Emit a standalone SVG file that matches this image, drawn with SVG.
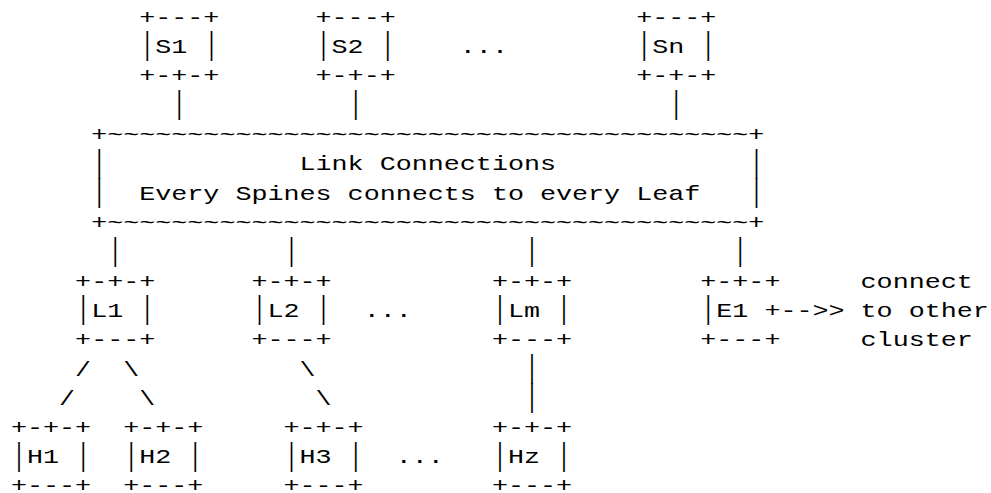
<svg xmlns="http://www.w3.org/2000/svg" width="991" height="493" viewBox="0 0 991 493">
<style>
text{font-family:"Liberation Mono","Courier New",monospace;font-size:21px;fill:#000}
text.b{font-size:31px;text-anchor:middle}
</style>
<rect width="991" height="493" fill="#fff"/>
<g id="S1">
<text x="139.24" y="23.5" textLength="80.15" lengthAdjust="spacingAndGlyphs">+---+</text>
<text class="b" transform="translate(147.26,54.3) scale(0.645,1)">|</text>
<text x="155.27" y="52.8" textLength="32.06" lengthAdjust="spacingAndGlyphs">S1</text>
<text class="b" transform="translate(211.38,54.3) scale(0.645,1)">|</text>
<text x="139.24" y="82.2" textLength="80.15" lengthAdjust="spacingAndGlyphs">+-+-+</text>
</g>
<g id="S2">
<text x="315.57" y="23.5" textLength="80.15" lengthAdjust="spacingAndGlyphs">+---+</text>
<text class="b" transform="translate(323.59,54.3) scale(0.645,1)">|</text>
<text x="331.6" y="52.8" textLength="32.06" lengthAdjust="spacingAndGlyphs">S2</text>
<text class="b" transform="translate(387.71,54.3) scale(0.645,1)">|</text>
<text x="315.57" y="82.2" textLength="80.15" lengthAdjust="spacingAndGlyphs">+-+-+</text>
</g>
<g id="S-dots"><text x="459.84" y="52.8" textLength="48.09" lengthAdjust="spacingAndGlyphs">...</text></g>
<g id="Sn">
<text x="636.17" y="23.5" textLength="80.15" lengthAdjust="spacingAndGlyphs">+---+</text>
<text class="b" transform="translate(644.19,54.3) scale(0.645,1)">|</text>
<text x="652.2" y="52.8" textLength="32.06" lengthAdjust="spacingAndGlyphs">Sn</text>
<text class="b" transform="translate(708.31,54.3) scale(0.645,1)">|</text>
<text x="636.17" y="82.2" textLength="80.15" lengthAdjust="spacingAndGlyphs">+-+-+</text>
</g>
<g id="link-connections">
<text x="91.15" y="140.8" textLength="673.26" lengthAdjust="spacingAndGlyphs">+~~~~~~~~~~~~~~~~~~~~~~~~~~~~~~~~~~~~~~~~+</text>
<text class="b" transform="translate(99.17,171.7) scale(0.645,1)">|</text>
<text x="299.54" y="170.2" textLength="256.48" lengthAdjust="spacingAndGlyphs">Link Connections</text>
<text class="b" transform="translate(756.4,171.7) scale(0.645,1)">|</text>
<text class="b" transform="translate(99.17,201) scale(0.645,1)">|</text>
<text x="139.24" y="199.5" textLength="561.05" lengthAdjust="spacingAndGlyphs">Every Spines connects to every Leaf</text>
<text class="b" transform="translate(756.4,201) scale(0.645,1)">|</text>
<text x="91.15" y="228.8" textLength="673.26" lengthAdjust="spacingAndGlyphs">+~~~~~~~~~~~~~~~~~~~~~~~~~~~~~~~~~~~~~~~~+</text>
</g>
<g id="L1">
<text x="75.12" y="287.5" textLength="80.15" lengthAdjust="spacingAndGlyphs">+-+-+</text>
<text class="b" transform="translate(83.14,318.3) scale(0.645,1)">|</text>
<text x="91.15" y="316.8" textLength="32.06" lengthAdjust="spacingAndGlyphs">L1</text>
<text class="b" transform="translate(147.26,318.3) scale(0.645,1)">|</text>
<text x="75.12" y="346.1" textLength="80.15" lengthAdjust="spacingAndGlyphs">+---+</text>
</g>
<g id="L2">
<text x="251.45" y="287.5" textLength="80.15" lengthAdjust="spacingAndGlyphs">+-+-+</text>
<text class="b" transform="translate(259.47,318.3) scale(0.645,1)">|</text>
<text x="267.48" y="316.8" textLength="32.06" lengthAdjust="spacingAndGlyphs">L2</text>
<text class="b" transform="translate(323.59,318.3) scale(0.645,1)">|</text>
<text x="251.45" y="346.1" textLength="80.15" lengthAdjust="spacingAndGlyphs">+---+</text>
</g>
<g id="L-dots"><text x="363.66" y="316.8" textLength="48.09" lengthAdjust="spacingAndGlyphs">...</text></g>
<g id="Lm">
<text x="491.9" y="287.5" textLength="80.15" lengthAdjust="spacingAndGlyphs">+-+-+</text>
<text class="b" transform="translate(499.92,318.3) scale(0.645,1)">|</text>
<text x="507.93" y="316.8" textLength="32.06" lengthAdjust="spacingAndGlyphs">Lm</text>
<text class="b" transform="translate(564.04,318.3) scale(0.645,1)">|</text>
<text x="491.9" y="346.1" textLength="80.15" lengthAdjust="spacingAndGlyphs">+---+</text>
</g>
<g id="E1">
<text x="700.29" y="287.5" textLength="80.15" lengthAdjust="spacingAndGlyphs">+-+-+</text>
<text class="b" transform="translate(708.31,318.3) scale(0.645,1)">|</text>
<text x="716.32" y="316.8" textLength="32.06" lengthAdjust="spacingAndGlyphs">E1</text>
<text x="764.41" y="316.8" textLength="16.03" lengthAdjust="spacingAndGlyphs">+</text>
<text x="700.29" y="346.1" textLength="80.15" lengthAdjust="spacingAndGlyphs">+---+</text>
</g>
<g id="other-cluster">
<text x="860.59" y="287.5" textLength="112.21" lengthAdjust="spacingAndGlyphs">connect</text>
<text x="860.59" y="316.8" textLength="128.24" lengthAdjust="spacingAndGlyphs">to other</text>
<text x="860.59" y="346.1" textLength="112.21" lengthAdjust="spacingAndGlyphs">cluster</text>
</g>
<g id="H1">
<text x="11" y="434.1" textLength="80.15" lengthAdjust="spacingAndGlyphs">+-+-+</text>
<text class="b" transform="translate(19.02,464.9) scale(0.645,1)">|</text>
<text x="27.03" y="463.4" textLength="32.06" lengthAdjust="spacingAndGlyphs">H1</text>
<text class="b" transform="translate(83.14,464.9) scale(0.645,1)">|</text>
<text x="11" y="491.5" textLength="80.15" lengthAdjust="spacingAndGlyphs">+---+</text>
</g>
<g id="H2">
<text x="123.21" y="434.1" textLength="80.15" lengthAdjust="spacingAndGlyphs">+-+-+</text>
<text class="b" transform="translate(131.23,464.9) scale(0.645,1)">|</text>
<text x="139.24" y="463.4" textLength="32.06" lengthAdjust="spacingAndGlyphs">H2</text>
<text class="b" transform="translate(195.35,464.9) scale(0.645,1)">|</text>
<text x="123.21" y="491.5" textLength="80.15" lengthAdjust="spacingAndGlyphs">+---+</text>
</g>
<g id="H3">
<text x="283.51" y="434.1" textLength="80.15" lengthAdjust="spacingAndGlyphs">+-+-+</text>
<text class="b" transform="translate(291.53,464.9) scale(0.645,1)">|</text>
<text x="299.54" y="463.4" textLength="32.06" lengthAdjust="spacingAndGlyphs">H3</text>
<text class="b" transform="translate(355.65,464.9) scale(0.645,1)">|</text>
<text x="283.51" y="491.5" textLength="80.15" lengthAdjust="spacingAndGlyphs">+---+</text>
</g>
<g id="H-dots"><text x="395.72" y="463.4" textLength="48.09" lengthAdjust="spacingAndGlyphs">...</text></g>
<g id="Hz">
<text x="491.9" y="434.1" textLength="80.15" lengthAdjust="spacingAndGlyphs">+-+-+</text>
<text class="b" transform="translate(499.92,464.9) scale(0.645,1)">|</text>
<text x="507.93" y="463.4" textLength="32.06" lengthAdjust="spacingAndGlyphs">Hz</text>
<text class="b" transform="translate(564.04,464.9) scale(0.645,1)">|</text>
<text x="491.9" y="491.5" textLength="80.15" lengthAdjust="spacingAndGlyphs">+---+</text>
</g>
<g id="connectors">
<text class="b" transform="translate(179.32,113) scale(0.645,1)">|</text>
<text class="b" transform="translate(355.65,113) scale(0.645,1)">|</text>
<text class="b" transform="translate(676.25,113) scale(0.645,1)">|</text>
<text class="b" transform="translate(115.2,259.7) scale(0.645,1)">|</text>
<text class="b" transform="translate(291.53,259.7) scale(0.645,1)">|</text>
<text class="b" transform="translate(532,259.7) scale(0.645,1)">|</text>
<text class="b" transform="translate(740.37,259.7) scale(0.645,1)">|</text>
<text x="780.44" y="316.8" textLength="64.12" lengthAdjust="spacingAndGlyphs">-->></text>
<text x="75.12" y="375.5" textLength="16.03" lengthAdjust="spacingAndGlyphs">/</text>
<text x="123.21" y="375.5" textLength="16.03" lengthAdjust="spacingAndGlyphs">\</text>
<text x="299.54" y="375.5" textLength="16.03" lengthAdjust="spacingAndGlyphs">\</text>
<text class="b" transform="translate(532,377) scale(0.645,1)">|</text>
<text x="59.09" y="404.8" textLength="16.03" lengthAdjust="spacingAndGlyphs">/</text>
<text x="139.24" y="404.8" textLength="16.03" lengthAdjust="spacingAndGlyphs">\</text>
<text x="315.57" y="404.8" textLength="16.03" lengthAdjust="spacingAndGlyphs">\</text>
<text class="b" transform="translate(532,406.3) scale(0.645,1)">|</text>
</g>
</svg>
